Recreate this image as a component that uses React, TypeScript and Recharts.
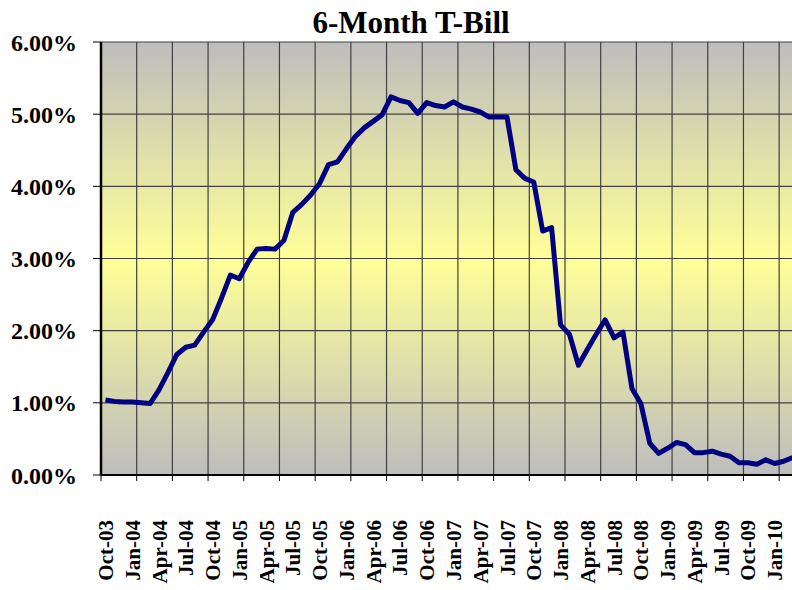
import React from 'react';
import { LineChart, Line, XAxis, YAxis, CartesianGrid } from 'recharts';

// Monthly 6-month T-bill rate (%), Oct-03 .. Mar-10
const rates = [
  1.04, 1.02, 1.01, 1.01, 1.0, 0.99, 1.18, 1.42, 1.67, 1.77, 1.8, 1.98,
  2.15, 2.45, 2.77, 2.72, 2.95, 3.13, 3.14, 3.13, 3.25, 3.64, 3.75, 3.88,
  4.04, 4.3, 4.34, 4.52, 4.69, 4.81, 4.9, 4.99, 5.24, 5.19, 5.16, 5.01,
  5.16, 5.12, 5.1, 5.17, 5.1, 5.07, 5.03, 4.96, 4.96, 4.96, 4.23, 4.11,
  4.06, 3.38, 3.43, 2.08, 1.95, 1.52, 1.74, 1.95, 2.15, 1.9, 1.98, 1.2,
  0.99, 0.44, 0.3, 0.37, 0.45, 0.42, 0.31, 0.31, 0.33, 0.29, 0.26, 0.17,
  0.17, 0.15, 0.21, 0.16, 0.19, 0.24,
];

const quarterLabels = [
  'Oct-03', 'Jan-04', 'Apr-04', 'Jul-04', 'Oct-04', 'Jan-05', 'Apr-05', 'Jul-05',
  'Oct-05', 'Jan-06', 'Apr-06', 'Jul-06', 'Oct-06', 'Jan-07', 'Apr-07', 'Jul-07',
  'Oct-07', 'Jan-08', 'Apr-08', 'Jul-08', 'Oct-08', 'Jan-09', 'Apr-09', 'Jul-09',
  'Oct-09', 'Jan-10',
];

const yTicks = [0, 1, 2, 3, 4, 5, 6];

const monthCount = rates.length;
const data = rates.map((v, i) => ({ x: i + 0.5, v }));
const gridTicks = Array.from({ length: Math.ceil(monthCount / 4) }, (_, k) => k * 4);
const labelTicks = quarterLabels.map((_, k) => k * 3 + 0.5);

const FONT = "'Liberation Serif', 'Times New Roman', serif";

const XLabel = (props: any) => {
  const { x, payload } = props;
  const idx = Math.round((payload.value - 0.5) / 3);
  return (
    <g transform={`translate(${x},520)`}>
      <text
        transform="rotate(-90)"
        textAnchor="end"
        dy="0.36em"
        fontFamily={FONT}
        fontWeight="bold"
        fontSize={21}
        fill="#000"
      >
        {quarterLabels[idx]}
      </text>
    </g>
  );
};

const NoTick = () => <g />;

export default function App() {
  return (
    <div
      style={{
        position: 'absolute',
        left: 0,
        top: 0,
        width: 792,
        height: 590,
        overflow: 'hidden',
        background: '#fff',
      }}
    >
      <div
        style={{
          position: 'absolute',
          left: 0,
          top: 8,
          width: 822,
          textAlign: 'center',
          fontFamily: FONT,
          fontWeight: 'bold',
          fontSize: 31,
          lineHeight: '30px',
          color: '#000',
        }}
      >
        6-Month T-Bill
      </div>
      <LineChart
        width={800}
        height={590}
        data={data}
        margin={{ top: 42, right: 3, left: 0, bottom: 10 }}
      >
        <defs>
          <linearGradient id="plotBg" x1="0" y1="0" x2="0" y2="1">
            <stop offset="0" stopColor="#bdbdbd" />
            <stop offset="0.5" stopColor="#ffff99" />
            <stop offset="1" stopColor="#bdbdbd" />
          </linearGradient>
        </defs>
        <CartesianGrid
          fill="url(#plotBg)"
          stroke="#404040"
          strokeWidth={1.2}
          xAxisId={0}
          vertical
          horizontal
        />
        <XAxis
          xAxisId={0}
          type="number"
          dataKey="x"
          domain={[0, monthCount]}
          ticks={gridTicks}
          interval={0}
          height={10}
          tick={<NoTick />}
          tickSize={6}
          tickLine={{ stroke: '#000' }}
          axisLine={{ stroke: '#000', strokeWidth: 2 }}
        />
        <XAxis
          xAxisId="lab"
          type="number"
          dataKey="x"
          domain={[0, monthCount]}
          ticks={labelTicks}
          interval={0}
          height={95}
          tick={<XLabel />}
          tickLine={false}
          axisLine={false}
        />
        <YAxis
          type="number"
          domain={[0, 6]}
          ticks={yTicks}
          interval={0}
          width={101}
          tickFormatter={(v: number) => v.toFixed(2) + '%'}
          tickSize={8}
          tickMargin={16}
          tickLine={{ stroke: '#000' }}
          axisLine={{ stroke: '#000', strokeWidth: 2.5 }}
          tick={{ fontFamily: FONT, fontWeight: 'bold', fontSize: 24, fill: '#000' }}
        />
        <Line
          type="linear"
          dataKey="v"
          stroke="#000080"
          strokeWidth={5}
          strokeLinejoin="round"
          dot={false}
          isAnimationActive={false}
        />
      </LineChart>
    </div>
  );
}
